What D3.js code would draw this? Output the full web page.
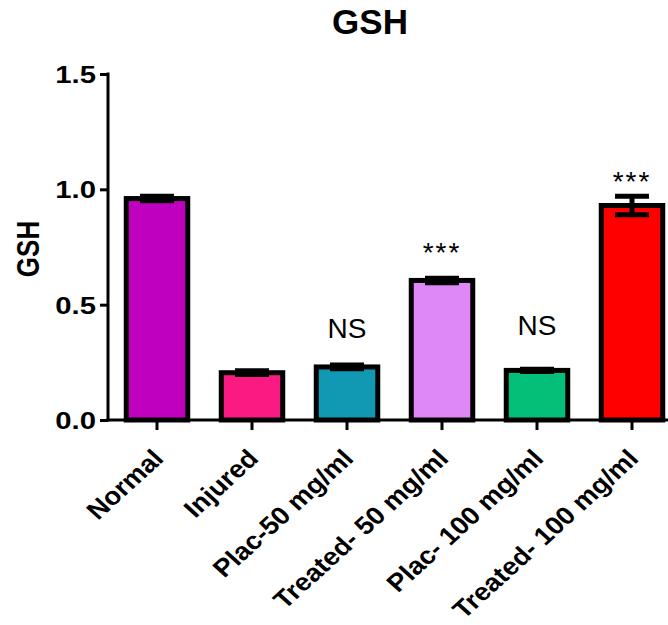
<!DOCTYPE html>
<html>
<head>
<meta charset="utf-8">
<script src="https://cdn.jsdelivr.net/npm/d3@7"></script>
<style>
  body { margin: 0; background: #fff; }
  svg { display: block; }
</style>
</head>
<body>
<figure id="chart" style="margin:0"></figure>
<script>
const categories = ['Normal', 'Injured', 'Plac-50 mg/ml', 'Treated- 50 mg/ml', 'Plac- 100 mg/ml', 'Treated- 100 mg/ml'];
const means = [0.96, 0.205, 0.23, 0.605, 0.215, 0.93];
const sems = [0.01, 0.008, 0.008, 0.01, 0.005, 0.04];
const marks = ['', '', 'NS', '***', 'NS', '***'];
const markLevels = [null, null, 0.357, 0.685, 0.368, 0.993];
const yTicks = [0, 0.5, 1.0, 1.5];
const colors = ['#BF00BF', '#F91A82', '#1199B4', '#DD88F5', '#04BF77', '#FF0000'];

const width = 668;
const height = 625;
const font = 'Arial, "Liberation Sans", Helvetica, sans-serif';
const stretch = 1.22;

const data = categories.map((name, i) => ({
  name, mean: means[i], sem: sems[i], mark: marks[i], level: markLevels[i], color: colors[i]
}));

const svg = d3.select('figure#chart')
  .append('svg')
  .attr('width', width)
  .attr('height', height)
  .attr('font-family', font);

const x = d3.scaleBand()
  .domain(categories)
  .range([109.5, 679.5])
  .paddingInner(0.3)
  .paddingOuter(0.15);

const y = d3.scaleLinear()
  .domain([0, 1.5])
  .range([420, 74]);

// bars
svg.append('g')
  .selectAll('rect')
  .data(data)
  .join('rect')
  .attr('x', d => x(d.name) + 2.5)
  .attr('width', x.bandwidth() - 5)
  .attr('y', d => y(d.mean))
  .attr('height', d => y(0) - y(d.mean))
  .attr('fill', d => d.color)
  .attr('stroke', '#000')
  .attr('stroke-width', 5);

// error bars
const err = svg.append('g')
  .attr('stroke', '#000')
  .attr('stroke-width', 5)
  .selectAll('g')
  .data(data)
  .join('g')
  .attr('transform', d => `translate(${x(d.name) + x.bandwidth() / 2},0)`);

err.append('line')
  .attr('y1', d => y(d.mean - d.sem))
  .attr('y2', d => y(d.mean + d.sem));
err.append('line')
  .attr('x1', -17).attr('x2', 17)
  .attr('y1', d => y(d.mean + d.sem))
  .attr('y2', d => y(d.mean + d.sem));
err.append('line')
  .attr('x1', -17).attr('x2', 17)
  .attr('y1', d => y(d.mean - d.sem))
  .attr('y2', d => y(d.mean - d.sem));

// significance marks
svg.append('g')
  .attr('text-anchor', 'middle')
  .attr('font-size', 28)
  .selectAll('text')
  .data(data.filter(d => d.mark))
  .join('text')
  .attr('x', d => x(d.name) + x.bandwidth() / 2)
  .attr('y', d => y(d.level))
  .attr('letter-spacing', d => d.mark === '***' ? 2 : 0)
  .text(d => d.mark);

// y axis
const yAxis = svg.append('g')
  .attr('transform', 'translate(108,0)')
  .call(d3.axisLeft(y).tickValues(yTicks).tickFormat(d3.format('.1f')).tickSize(8).tickSizeOuter(0));
yAxis.select('.domain').attr('stroke-width', 3).attr('d', `M0,${y(1.5) - 1.5}V${y(0) + 1.5}`);
yAxis.selectAll('.tick line').attr('stroke-width', 3);
yAxis.selectAll('.tick text')
  .attr('font-family', font)
  .attr('font-size', 24)
  .attr('font-weight', 'bold')
  .attr('fill', '#000')
  .attr('x', 0)
  .attr('dy', '0.36em')
  .attr('transform', `translate(-12,0) scale(${stretch},1)`);

// x axis
const xAxis = svg.append('g')
  .attr('transform', `translate(0,${y(0)})`)
  .call(d3.axisBottom(x).tickSize(10).tickSizeOuter(0).tickFormat(''));
xAxis.select('.domain').attr('stroke-width', 3).attr('d', 'M106.5,0H668');
xAxis.selectAll('.tick line').attr('stroke-width', 3);

svg.append('g')
  .attr('font-size', 25)
  .attr('font-weight', 'bold')
  .attr('text-anchor', 'end')
  .selectAll('text')
  .data(categories)
  .join('text')
  .attr('transform', d => `translate(${x(d) + x.bandwidth() / 2 + 8},460) scale(1.1,1) rotate(-45)`)
  .text(d => d);

// y label
svg.append('text')
  .attr('transform', `translate(39,249) rotate(-90) scale(1,${stretch})`)
  .attr('text-anchor', 'middle')
  .attr('font-size', 26)
  .attr('font-weight', 'bold')
  .text('GSH');

// title
svg.append('text')
  .attr('x', 370)
  .attr('y', 34)
  .attr('text-anchor', 'middle')
  .attr('font-size', 35)
  .attr('font-weight', 'bold')
  .text('GSH');
</script>
</body>
</html>
